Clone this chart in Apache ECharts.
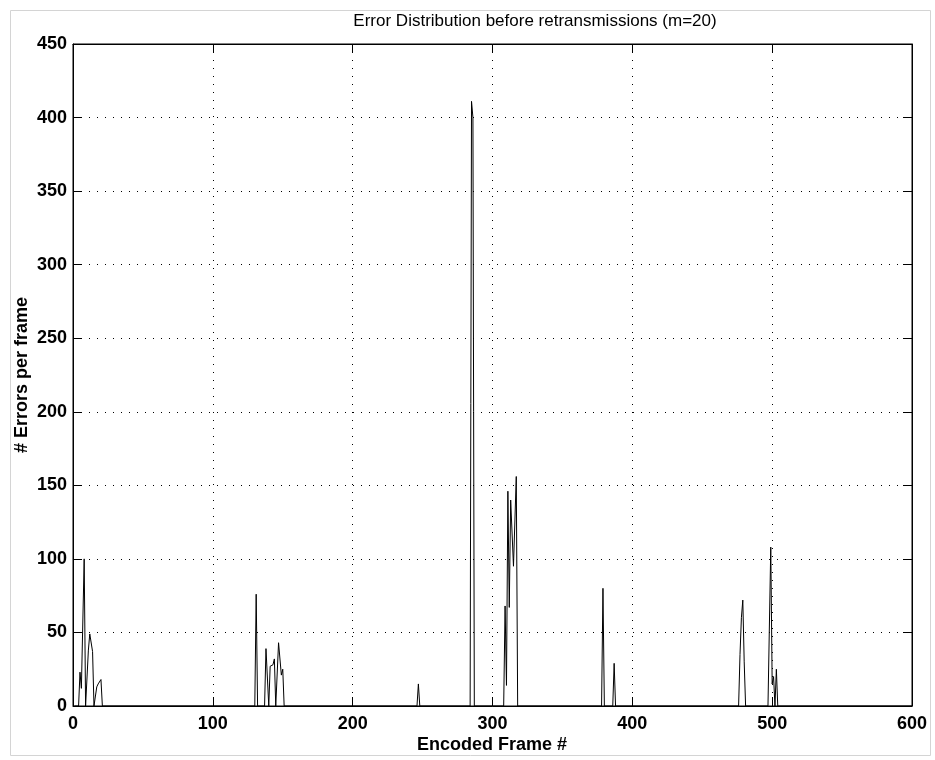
<!DOCTYPE html>
<html>
<head>
<meta charset="utf-8">
<script src="https://cdn.jsdelivr.net/npm/echarts@6/dist/echarts.min.js"></script>
<style>
html,body{margin:0;padding:0;background:#fff;}
#chart{width:935px;height:760px;}
</style>
</head>
<body>
<div id="chart"></div>
<script>
// Encoded frame numbers (vertices of the trace) and errors per frame at each
const frames = [1,4,5,6,8,9,10,11,12,13,14,15,17,18,19,20,21,
  130,131,132,
  137,138,140,141,142,143,144,145,147,149,150,151,
  246,247,248,
  284,285,286,287,
  308,309,310,311,312,313,315,317,318,
  378,379,380,
  386,387,388,
  476,477,478,479,480,481,
  497,499,500,501,502,503,504,
  600];
const errors = [0,0,23,12,100,0,0,38,49,50,37,0,13,15,16,18,0,
  0,76,0,
  0,39,0,27,26,28,32,0,43,21,25,0,
  0,15,0,
  0,411,400,0,
  0,68,14,146,67,140,95,156,0,
  0,80,0,
  0,29,0,
  0,35,60,72,30,0,
  0,108,15,20,0,25,0,
  0];

const titleText = 'Error Distribution before retransmissions (m=20)';
const xLabel = 'Encoded Frame #';
const yLabel = '# Errors per frame';
const xMin = 0, xMax = 600, xStep = 100;
const yMin = 0, yMax = 450, yStep = 50;

const chart = echarts.init(document.getElementById('chart'), null, {renderer: 'canvas'});
const FONT = '"Liberation Sans", Arial, Helvetica, sans-serif';
const tickStyle = {show: true, inside: true, length: 9, lineStyle: {color: '#000', width: 1}};
const gridLine = {show: true, lineStyle: {color: '#000', width: 1, type: [1, 7]}};

const option = {
  animation: false,
  backgroundColor: '#fff',
  grid: {left: 73, right: 23, top: 44, bottom: 54, show: true, borderColor: '#000', borderWidth: 1, backgroundColor: 'transparent'},
  xAxis: [{
    type: 'value', min: xMin, max: xMax, interval: xStep, position: 'bottom',
    axisLine: {show: true, onZero: false, lineStyle: {color: '#000', width: 1}},
    axisTick: tickStyle,
    axisLabel: {color: '#000', fontFamily: FONT, fontSize: 18, fontWeight: 'bold', margin: 9},
    splitLine: gridLine
  }, {
    type: 'value', min: xMin, max: xMax, interval: xStep, position: 'top',
    axisLine: {show: true, onZero: false, lineStyle: {color: '#000', width: 1}},
    axisTick: tickStyle, axisLabel: {show: false}, splitLine: {show: false}
  }],
  yAxis: [{
    type: 'value', min: yMin, max: yMax, interval: yStep, position: 'left',
    axisLine: {show: true, onZero: false, lineStyle: {color: '#000', width: 1}},
    axisTick: tickStyle,
    axisLabel: {color: '#000', fontFamily: FONT, fontSize: 18, fontWeight: 'bold', margin: 6},
    splitLine: gridLine
  }, {
    type: 'value', min: yMin, max: yMax, interval: yStep, position: 'right',
    axisLine: {show: true, onZero: false, lineStyle: {color: '#000', width: 1}},
    axisTick: tickStyle, axisLabel: {show: false}, splitLine: {show: false}
  }],
  series: [{
    type: 'line',
    xAxisIndex: 0, yAxisIndex: 0,
    data: frames.map((f, i) => [f, errors[i]]),
    showSymbol: false, symbol: 'none',
    lineStyle: {color: '#000', width: 1},
    z: 5
  }],
  graphic: [
    {type: 'rect', shape: {x: 10.5, y: 10.5, width: 920, height: 745}, style: {fill: 'none', stroke: '#d4d4d4', lineWidth: 1}, silent: true, z: -10},
    {type: 'text', x: 535, y: 21, style: {text: titleText, font: '17px ' + FONT, fill: '#000', align: 'center', verticalAlign: 'middle'}},
    {type: 'text', x: 492, y: 745, style: {text: xLabel, font: 'bold 18px ' + FONT, fill: '#000', align: 'center', verticalAlign: 'middle'}},
    {type: 'text', x: 22, y: 375, rotation: Math.PI / 2, style: {text: yLabel, font: 'bold 18px ' + FONT, fill: '#000', align: 'center', verticalAlign: 'middle'}}
  ]
};
chart.setOption(option);
</script>
</body>
</html>
